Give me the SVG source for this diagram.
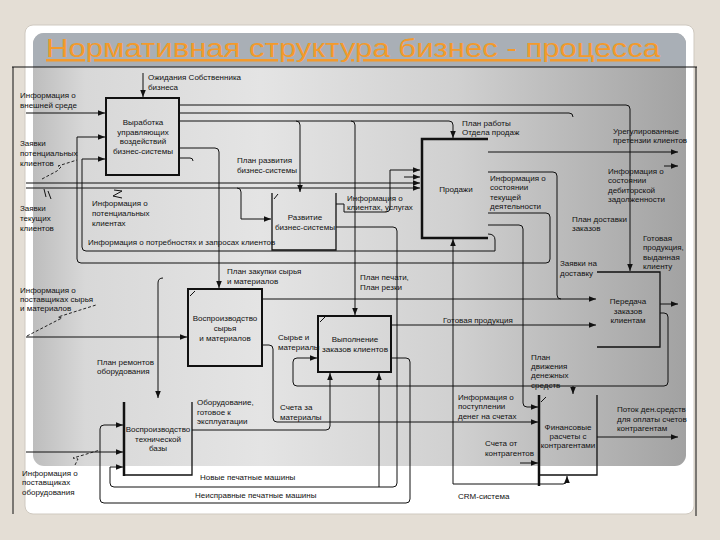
<svg xmlns="http://www.w3.org/2000/svg" width="720" height="540" viewBox="0 0 720 540">
<defs>
<linearGradient id="pg" x1="0" y1="0" x2="1" y2="0">
<stop offset="0" stop-color="#bdbdbd"/>
<stop offset="0.08" stop-color="#d8d8d8"/>
<stop offset="0.35" stop-color="#e4e4e4"/>
<stop offset="0.65" stop-color="#d0d0d0"/>
<stop offset="1" stop-color="#a2a2a2"/>
</linearGradient>
<marker id="ar" viewBox="0 0 10 10" refX="10" refY="5" markerWidth="7" markerHeight="7" markerUnits="userSpaceOnUse" orient="auto">
<path d="M0,1 L10,5 L0,9 z" fill="#111"/>
</marker>
<style>
.t{font-family:"Liberation Sans",Arial,sans-serif;font-size:8px;fill:#111}
.c{text-anchor:middle}
.ln{fill:none;stroke:#111;stroke-width:1}
.ar{marker-end:url(#ar)}
.bx{fill:none;stroke:#111;stroke-width:2}
.bt{fill:none;stroke:#111;stroke-width:1.3}
.sq{fill:none;stroke:#111;stroke-width:0.9;stroke-dasharray:3 2}
.tk{fill:none;stroke:#111;stroke-width:1}
</style>
</defs>

<rect width="720" height="540" fill="#e4ded5"/>
<rect x="25" y="25" width="669" height="489" rx="8" fill="#ffffff" stroke="#cfc9c0"/>
<rect x="33" y="33" width="653" height="433" rx="11" fill="url(#pg)"/>
<path d="M44,33 H675 A11,11 0 0 1 686,44 V67 H33 V44 A11,11 0 0 1 44,33 z" fill="#a9afb6"/>
<text x="46" y="57" font-family="'Liberation Sans',Arial,sans-serif" font-size="25" fill="#f39a2b" text-decoration="underline" textLength="614" lengthAdjust="spacingAndGlyphs">Нормативная структура бизнес - процесса</text>

<g id="frame">
<path class="ln" d="M12,67 H697 M13,67 V514 M696,67 V516"/>
</g>

<g id="connectors">
<path class="ln ar" d="M143,73 V97"/>
<path class="ln ar" d="M26,113 H105"/>
<path class="ln ar" d="M488,213 H546 Q550,213 550,217 V259 Q550,263 546,263 H81 Q77,263 77,259 V137 H105"/>
<path class="ln ar" d="M488,234 Q495,234 495,240 V251 H86 Q82,251 82,247 V159 H105"/>
<path class="ln ar" d="M26,183 H420"/>
<path class="ln ar" d="M26,188 H420"/>
<path class="ln ar" d="M237,188 Q241,188 241,192 V219 H271"/>
<path class="ln ar" d="M178,105 H626 Q630,105 630,109 V271"/>
<path class="ln" d="M178,113 H569 Q573,113 573,117"/>
<path class="ln ar" d="M178,121 H449 Q453,121 453,125 V138"/>
<path class="ln ar" d="M296,121 Q300,121 300,125 V192"/>
<path class="ln ar" d="M351,121 Q355,121 355,125 V315"/>
<path class="ln ar" d="M178,148 H215 Q219,148 219,152 V288"/>
<path class="ln" d="M178,158 H190 Q193,158 193,161"/>
<path class="ln ar" d="M163,278 Q158,278 158,283 V398"/>
<path class="ln ar" d="M336,204 H344 V212 H386 Q390,212 390,208 V170 H420"/>
<path class="ln ar" d="M404,177 H420"/>
<path class="ln ar" d="M336,227 H393 Q397,227 397,231 V483 Q397,487 393,487 H114 Q110,487 110,483 V467 H123"/>
<path class="ln ar" d="M488,152 H678"/>
<path class="ln ar" d="M664,166 H678"/>
<path class="ln" d="M488,172 H553 Q557,172 557,176 V295 Q557,299 561,299"/>
<path class="ln ar" d="M262,299 H596"/>
<path class="ln ar" d="M488,225 H519 Q523,225 523,229 V403 Q523,407 527,407 H538"/>
<path class="ln ar" d="M391,325 H596"/>
<path class="ln ar" d="M660,304 H678"/>
<path class="ln ar" d="M660,313 H664 Q668,313 668,317 V382 Q668,386 664,386 H297 Q293,386 293,382 V362 Q293,358 297,358 H317"/>
<path class="ln ar" d="M573,386 V394"/>
<path class="ln ar" d="M391,358 H406 Q410,358 410,362 V499 Q410,503 406,503 H104 Q100,503 100,499 V429 Q100,425 104,425 H123"/>
<path class="ln ar" d="M453,484 V239"/>
<path class="ln ar" d="M453,484 H563 Q567,484 567,480 V476"/>
<path class="ln ar" d="M379,487 V373"/>
<path class="ln ar" d="M192,430 H326 Q330,430 330,426 V373"/>
<path class="ln ar" d="M262,345 H269 Q273,345 273,349 V418 Q273,422 277,422 H538"/>
<path class="ln ar" d="M26,337 H187"/>
<path class="ln ar" d="M26,452 H123"/>
<path class="ln ar" d="M597,437 H678"/>
<path class="ln ar" d="M520,463 H538"/>
<path class="sq" d="M42,179 L57,171 L61,167 L58,166 L77,160"/>
<path class="tk" d="M44,189 L46,197 M48,191 L51,199"/>
<path class="tk" d="M114,190 L122,191 L113,196 L122,198"/>
<path class="sq" d="M27,336 L56,321 L62,318 L58,317 L96,305"/>
<path class="sq" d="M75,465 L78,459 L73,458 L80,456 L100,450"/>
</g>

<g id="n-vyrabotka">
<rect class="bx" x="106" y="98" width="73" height="77"/>
<text class="t c" x="143"><tspan x="143" y="125">Выработка</tspan><tspan x="143" y="134.5">управляющих</tspan><tspan x="143" y="144">воздействий</tspan><tspan x="143" y="153.5">бизнес-системы</tspan></text>
</g>

<g id="n-prodazhi">
<path d="M488,139 H422 V238 H488" fill="none" stroke="#111" stroke-width="2.5"/>
<text class="t c" x="456" y="192">Продажи</text>
</g>

<g id="n-razvitie">
<path class="bt" d="M272,193 V250 H336 V193"/>
<path class="tk" d="M274,199 L278,194"/>
<text class="t c" x="305"><tspan x="305" y="220">Развитие</tspan><tspan x="305" y="229.5">бизнес-системы</tspan></text>
</g>

<g id="n-peredacha">
<path class="bt" d="M597,272 H660 V347 H597"/>
<text class="t c" x="628"><tspan x="628" y="304">Передача</tspan><tspan x="628" y="313.5">заказов</tspan><tspan x="628" y="323">клиентам</tspan></text>
</g>

<g id="n-syrie">
<rect class="bx" x="188" y="289" width="74" height="77"/>
<path class="tk" d="M190,296 L195,291"/>
<text class="t c" x="225"><tspan x="225" y="321">Воспроизводство</tspan><tspan x="225" y="331">сырья</tspan><tspan x="225" y="341">и материалов</tspan></text>
</g>

<g id="n-vypolnenie">
<rect class="bx" x="318" y="316" width="73" height="56"/>
<path class="tk" d="M320,322 L325,317"/>
<text class="t c" x="355"><tspan x="355" y="342">Выполнение</tspan><tspan x="355" y="351.5" textLength="66" lengthAdjust="spacingAndGlyphs">заказов клиентов</tspan></text>
</g>

<g id="n-tehbaza">
<path d="M124,402 V476" fill="none" stroke="#111" stroke-width="2.5"/>
<path class="bt" d="M124,475 H192 V402"/>
<text class="t c" x="158"><tspan x="158" y="432">Воспроизводство</tspan><tspan x="158" y="441.5">технической</tspan><tspan x="158" y="451">базы</tspan></text>
</g>

<g id="n-finansy">
<path d="M539,395 V486" fill="none" stroke="#111" stroke-width="2.5"/>
<path class="bt" d="M539,475 H597 V395"/>
<path class="tk" d="M541,402 L546,397"/>
<text class="t c" x="568"><tspan x="568" y="430">Финансовые</tspan><tspan x="568" y="439">расчеты с</tspan><tspan x="568" y="448">контрагентами</tspan></text>
</g>

<g id="labels">
<text class="t"><tspan x="148" y="80">Ожидания Собственника</tspan><tspan x="148" y="90">бизнеса</tspan></text>
<text class="t"><tspan x="20" y="98">Информация о</tspan><tspan x="20" y="108">внешней среде</tspan></text>
<text class="t"><tspan x="20" y="146">Заявки</tspan><tspan x="20" y="156">потенциальных</tspan><tspan x="20" y="166">клиентов</tspan></text>
<text class="t"><tspan x="20" y="211">Заявки</tspan><tspan x="20" y="221">текущих</tspan><tspan x="20" y="231">клиентов</tspan></text>
<text class="t"><tspan x="92" y="206">Информация о</tspan><tspan x="92" y="216">потенциальных</tspan><tspan x="92" y="226">клиентах</tspan></text>
<text class="t"><tspan x="237" y="163">План развития</tspan><tspan x="237" y="173">бизнес-системы</tspan></text>
<text class="t"><tspan x="347" y="201">Информация о</tspan><tspan x="347" y="210">клиентах, услугах</tspan></text>
<text class="t" x="88" y="245">Информация о потребностях и запросах клиентов</text>
<text class="t"><tspan x="462" y="126">План работы</tspan><tspan x="462" y="135">Отдела продаж</tspan></text>
<text class="t"><tspan x="613" y="134">Урегулированные</tspan><tspan x="613" y="143">претензии клиентов</tspan></text>
<text class="t"><tspan x="608" y="174">Информация о</tspan><tspan x="608" y="183">состоянии</tspan><tspan x="608" y="192.5">дебиторской</tspan><tspan x="608" y="202">задолженности</tspan></text>
<text class="t"><tspan x="490" y="181">Информация о</tspan><tspan x="490" y="190">состоянии</tspan><tspan x="490" y="199.5">текущей</tspan><tspan x="490" y="209">деятельности</tspan></text>
<text class="t"><tspan x="572" y="222">План доставки</tspan><tspan x="572" y="231">заказов</tspan></text>
<text class="t"><tspan x="643" y="241">Готовая</tspan><tspan x="643" y="250">продукция,</tspan><tspan x="643" y="259.5">выданная</tspan><tspan x="643" y="269">клиенту</tspan></text>
<text class="t"><tspan x="560" y="266">Заявки на</tspan><tspan x="560" y="276">доставку</tspan></text>
<text class="t"><tspan x="227" y="274">План закупки сырья</tspan><tspan x="227" y="284">и материалов</tspan></text>
<text class="t"><tspan x="360" y="280">План печати,</tspan><tspan x="360" y="290">План резки</tspan></text>
<text class="t"><tspan x="20" y="293">Информация о</tspan><tspan x="20" y="302">поставщиках сырья</tspan><tspan x="20" y="311">и материалов</tspan></text>
<text class="t"><tspan x="278" y="340">Сырье и</tspan><tspan x="278" y="350">материалы</tspan></text>
<text class="t" x="443" y="323">Готовая продукция</text>
<text class="t"><tspan x="97" y="365">План ремонтов</tspan><tspan x="97" y="374">оборудования</tspan></text>
<text class="t"><tspan x="531" y="360">План</tspan><tspan x="531" y="369">движения</tspan><tspan x="531" y="378">денежных</tspan><tspan x="531" y="388">средств</tspan></text>
<text class="t"><tspan x="197" y="405">Оборудование,</tspan><tspan x="197" y="415">готовое к</tspan><tspan x="197" y="424">эксплуатации</tspan></text>
<text class="t"><tspan x="280" y="410">Счета за</tspan><tspan x="280" y="420">материалы</tspan></text>
<text class="t"><tspan x="458" y="400">Информация о</tspan><tspan x="458" y="409">поступлении</tspan><tspan x="458" y="419">денег на счетах</tspan></text>
<text class="t"><tspan x="485" y="446">Счета от</tspan><tspan x="485" y="456">контрагентов</tspan></text>
<text class="t"><tspan x="617" y="412">Поток ден.средств</tspan><tspan x="617" y="422">для оплаты счетов</tspan><tspan x="617" y="431">контрагентам</tspan></text>
<text class="t"><tspan x="22" y="476">Информация о</tspan><tspan x="22" y="485">поставщиках</tspan><tspan x="22" y="495">оборудования</tspan></text>
<text class="t" x="200" y="480">Новые печатные машины</text>
<text class="t" x="195" y="498">Неисправные печатные машины</text>
<text class="t" x="458" y="499">CRM-система</text>
</g>
</svg>
